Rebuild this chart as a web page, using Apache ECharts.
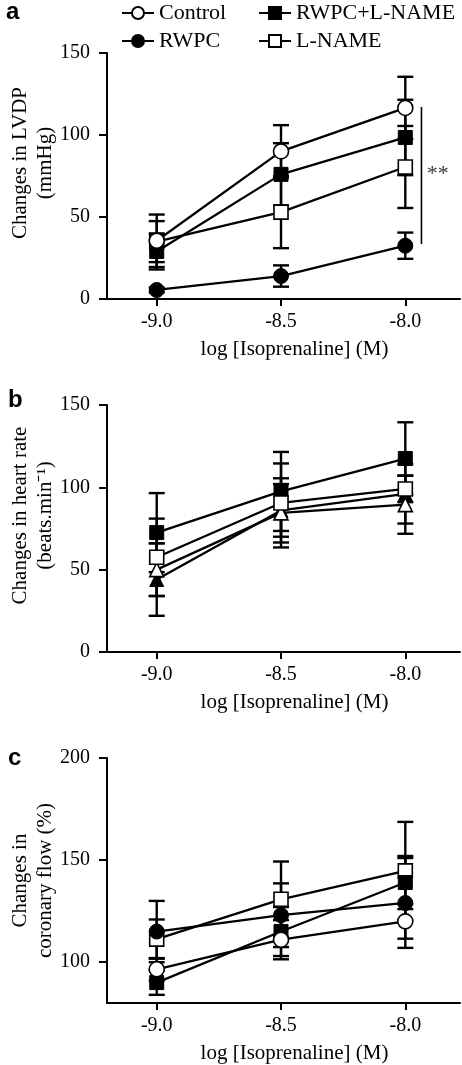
<!DOCTYPE html>
<html><head><meta charset="utf-8">
<script src="https://cdn.jsdelivr.net/npm/echarts@6/dist/echarts.min.js"></script>
<style>html,body{margin:0;padding:0;background:#fff}#c{width:462px;height:1065px}</style>
</head><body><div id="c"></div>
<script>
// ---------- data ----------
const doses = [-9.0, -8.5, -8.0];
const xTickValues = [-9.0, -8.5, -8.0];
const yTicksAB = [0, 50, 100, 150];
const yTicksC = [100, 150, 200];
const seriesNames = ['Control', 'RWPC', 'RWPC+L-NAME', 'L-NAME'];

// Panel a: Changes in LVDP (mmHg)
const lvdpControl = [35.5, 90, 116.5];
const lvdpControlSem = [16, 16, 19];
const lvdpRWPC = [5.5, 14, 32.5];
const lvdpRWPCSem = [1.5, 6.5, 8];
const lvdpRWPCLN = [29, 76, 98.5];
const lvdpRWPCLNSem = [11, 19, 23];
const lvdpLN = [35, 53, 80.5];
const lvdpLNSem = [12.5, 22, 25];
const sigLine = [[-7.935, 117], [-7.935, 33.5]];
const sigMark = [[-7.87, 76]];
const sigText = '**';

// Panel b: Changes in heart rate (beats.min-1)
const hrControl = [50, 84.5, 89.5];
const hrControlSem = [16, 21, 17.7];
const hrRWPC = [44, 86, 96];
const hrRWPCSem = [22, 16, 18];
const hrRWPCLN = [72.5, 97.5, 117.5];
const hrRWPCLNSem = [24, 24, 22];
const hrLN = [57.5, 90.5, 99];
const hrLNSem = [23.5, 24, 8];

// Panel c: Changes in coronary flow (%)
const cfControl = [96.5, 111, 120];
const cfControlSem = [5.5, 9.6, 8.5];
const cfRWPC = [115, 123, 129];
const cfRWPCSem = [15, 15.6, 22];
const cfRWPCLN = [90, 115, 139];
const cfRWPCLNSem = [6, 12, 13];
const cfLN = [111.3, 130.8, 144.7];
const cfLNSem = [9.6, 18.5, 24];

// ---------- styling ----------
const SERIF = 'Liberation Serif';
const BLACK = '#000';

function pts(vals) { return doses.map((d, i) => [d, vals[i]]); }
function errPts(vals, sem) { return doses.map((d, i) => [d, vals[i], sem[i]]); }

function errRender(params, api) {
  const x = api.value(0), y = api.value(1), e = api.value(2);
  const top = api.coord([x, y + e]), bot = api.coord([x, y - e]);
  const hw = 8;
  const style = { stroke: BLACK, lineWidth: 2.4, fill: null };
  return {
    type: 'group', children: [
      { type: 'line', shape: { x1: top[0], y1: top[1], x2: bot[0], y2: bot[1] }, style },
      { type: 'line', shape: { x1: top[0] - hw, y1: top[1], x2: top[0] + hw, y2: top[1] }, style },
      { type: 'line', shape: { x1: bot[0] - hw, y1: bot[1], x2: bot[0] + hw, y2: bot[1] }, style }
    ]
  };
}

function errSeries(gi, vals, sem) {
  return {
    type: 'custom', name: 'err' + gi, xAxisIndex: gi, yAxisIndex: gi,
    renderItem: errRender, data: errPts(vals, sem), z: 1, clip: true,
    encode: { x: 0, y: 1 }, silent: true
  };
}

const markerStyles = {
  openCircle: { symbol: 'circle', symbolSize: 15, itemStyle: { color: '#fff', borderColor: BLACK, borderWidth: 1.6 } },
  fillCircle: { symbol: 'circle', symbolSize: 15, itemStyle: { color: BLACK, borderColor: BLACK, borderWidth: 1 } },
  fillSquare: { symbol: 'rect', symbolSize: 14, itemStyle: { color: BLACK, borderColor: BLACK, borderWidth: 1 } },
  openSquare: { symbol: 'rect', symbolSize: 14, itemStyle: { color: '#fff', borderColor: BLACK, borderWidth: 1.6 } },
  openTri: { symbol: 'triangle', symbolSize: 14, itemStyle: { color: '#fff', borderColor: BLACK, borderWidth: 1.6 } },
  fillTri: { symbol: 'triangle', symbolSize: 14, itemStyle: { color: BLACK, borderColor: BLACK, borderWidth: 1 } }
};

function lineSeries(gi, name, vals, marker, z) {
  const m = markerStyles[marker];
  return {
    type: 'line', name, xAxisIndex: gi, yAxisIndex: gi, data: pts(vals),
    symbol: m.symbol, symbolSize: m.symbolSize, itemStyle: m.itemStyle,
    lineStyle: { color: BLACK, width: 2.3 }, showSymbol: true, z: z,
    animation: false, silent: true
  };
}

function xAx(gi) {
  return {
    type: 'value', gridIndex: gi, min: -9.2, max: -7.78,
    name: 'log [Isoprenaline] (M)', nameLocation: 'middle', nameGap: 40, nameMoveOverlap: false,
    nameTextStyle: { fontFamily: SERIF, fontSize: 21, color: BLACK, padding: [0, 0, 0, 22] },
    axisLine: { show: true, onZero: false, lineStyle: { color: BLACK, width: 2 } },
    axisTick: { show: true, customValues: xTickValues, length: 7, inside: false, lineStyle: { color: BLACK, width: 2 } },
    axisLabel: { customValues: xTickValues, formatter: v => Number(v).toFixed(1), fontFamily: SERIF, fontSize: 20, color: BLACK, margin: 13 },
    splitLine: { show: false }
  };
}

function yAx(gi, min, max, ticks, name, shift) {
  return {
    type: 'value', gridIndex: gi, min, max,
    name, nameLocation: 'middle', nameRotate: 90, nameGap: 49, nameMoveOverlap: false,
    nameTextStyle: { fontFamily: SERIF, fontSize: 21, color: BLACK, lineHeight: 25, padding: [0, 0, 0, shift] },
    axisLine: { show: true, onZero: false, lineStyle: { color: BLACK, width: 2 } },
    axisTick: { show: true, customValues: ticks, length: 8, inside: false, lineStyle: { color: BLACK, width: 2 } },
    axisLabel: { customValues: ticks, fontFamily: SERIF, fontSize: 20, color: BLACK, margin: 17 },
    splitLine: { show: false }
  };
}

const series = [
  // panel a
  errSeries(0, lvdpRWPC, lvdpRWPCSem),
  errSeries(0, lvdpLN, lvdpLNSem),
  errSeries(0, lvdpRWPCLN, lvdpRWPCLNSem),
  errSeries(0, lvdpControl, lvdpControlSem),
  lineSeries(0, 'Control', lvdpControl, 'openCircle', 6),
  lineSeries(0, 'RWPC', lvdpRWPC, 'fillCircle', 3),
  lineSeries(0, 'RWPC+L-NAME', lvdpRWPCLN, 'fillSquare', 5),
  lineSeries(0, 'L-NAME', lvdpLN, 'openSquare', 4),
  {
    type: 'line', name: 'sig', xAxisIndex: 0, yAxisIndex: 0, data: sigLine,
    symbol: 'none', lineStyle: { color: BLACK, width: 1.6 }, z: 2, silent: true
  },
  {
    type: 'scatter', name: 'sigText', xAxisIndex: 0, yAxisIndex: 0, data: sigMark,
    symbolSize: 0, silent: true,
    label: { show: true, position: 'inside', formatter: sigText, fontFamily: SERIF, fontSize: 22, color: BLACK }
  },
  // panel b
  errSeries(1, hrRWPC, hrRWPCSem),
  errSeries(1, hrControl, hrControlSem),
  errSeries(1, hrRWPCLN, hrRWPCLNSem),
  errSeries(1, hrLN, hrLNSem),
  lineSeries(1, 'RWPC', hrRWPC, 'fillTri', 3),
  lineSeries(1, 'Control', hrControl, 'openTri', 4),
  lineSeries(1, 'RWPC+L-NAME', hrRWPCLN, 'fillSquare', 5),
  lineSeries(1, 'L-NAME', hrLN, 'openSquare', 6),
  // panel c
  errSeries(2, cfLN, cfLNSem),
  errSeries(2, cfRWPCLN, cfRWPCLNSem),
  errSeries(2, cfRWPC, cfRWPCSem),
  errSeries(2, cfControl, cfControlSem),
  lineSeries(2, 'L-NAME', cfLN, 'openSquare', 3),
  lineSeries(2, 'RWPC+L-NAME', cfRWPCLN, 'fillSquare', 4),
  lineSeries(2, 'RWPC', cfRWPC, 'fillCircle', 5),
  lineSeries(2, 'Control', cfControl, 'openCircle', 6)
];

function legendAt(name, left, top) {
  return {
    data: [name], left, top, padding: 0, itemWidth: 32, itemHeight: 15, itemGap: 0,
    selectedMode: false,
    textStyle: { fontFamily: SERIF, fontSize: 22, color: BLACK }
  };
}

const gridBase = { left: 107, right: 2, containLabel: false, outerBoundsMode: 'none' };

const option = {
  animation: false,
  backgroundColor: '#fff',
  title: [
    { text: 'a', left: 6, top: 0, padding: 0, textStyle: { fontFamily: 'Liberation Sans', fontWeight: 'bold', fontSize: 24, color: BLACK } },
    { text: 'b', left: 8, top: 388, padding: 0, textStyle: { fontFamily: 'Liberation Sans', fontWeight: 'bold', fontSize: 24, color: BLACK } },
    { text: 'c', left: 8, top: 746, padding: 0, textStyle: { fontFamily: 'Liberation Sans', fontWeight: 'bold', fontSize: 24, color: BLACK } }
  ],
  legend: [
    legendAt('Control', 121, 2),
    legendAt('RWPC+L-NAME', 258, 2),
    legendAt('RWPC', 121, 30),
    legendAt('L-NAME', 258, 30)
  ],
  grid: [
    Object.assign({ top: 53, height: 246 }, gridBase),
    Object.assign({ top: 405, height: 247 }, gridBase),
    Object.assign({ top: 758, height: 245 }, gridBase)
  ],
  xAxis: [xAx(0), xAx(1), xAx(2)],
  yAxis: [
    yAx(0, 0, 150, yTicksAB, 'Changes in LVDP\n(mmHg)', 26),
    yAx(1, 0, 150, yTicksAB, 'Changes in heart rate\n(beats.min\u207B\u00B9)', 26),
    yAx(2, 80, 200, yTicksC, 'Changes in\ncoronary flow (%)', 0)
  ],
  series
};

const chart = echarts.init(document.getElementById('c'), null, { renderer: 'canvas' });
chart.setOption(option);
</script>
</body></html>
